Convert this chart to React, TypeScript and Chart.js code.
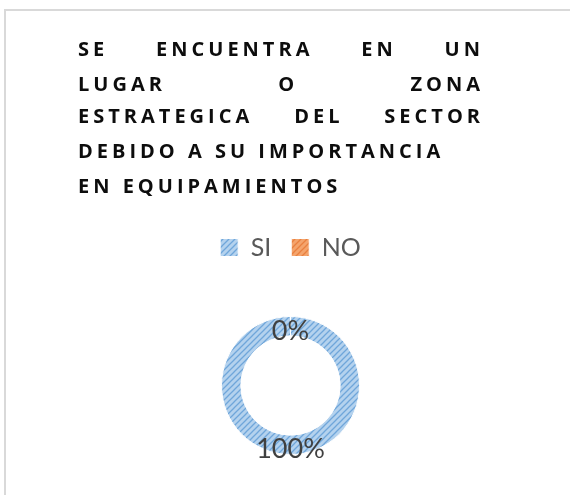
import React, { useEffect, useRef } from "react";
import { Chart, registerables } from "chart.js";

Chart.register(...registerables);

const categories = ["SI", "NO"];
const values = [100, 0];
const valueLabels = ["100%", "0%"];
const titleLines = [
  ["SE", "ENCUENTRA", "EN", "UN"],
  ["LUGAR", "O", "ZONA"],
  ["ESTRATEGICA", "DEL", "SECTOR"],
  ["DEBIDO", "A", "SU", "IMPORTANCIA"],
  ["EN", "EQUIPAMIENTOS"],
];
const justified = [true, true, true, false, false];

function makePattern(bg: string, fg: string): CanvasPattern | string {
  const c = document.createElement("canvas");
  c.width = 6;
  c.height = 6;
  const x = c.getContext("2d");
  if (!x) return bg;
  x.fillStyle = bg;
  x.fillRect(0, 0, 6, 6);
  x.strokeStyle = fg;
  x.lineWidth = 1.3;
  x.beginPath();
  x.moveTo(-1, 7);
  x.lineTo(7, -1);
  x.moveTo(-1, 1);
  x.lineTo(1, -1);
  x.moveTo(5, 7);
  x.lineTo(7, 5);
  x.stroke();
  const p = x.createPattern(c, "repeat");
  return p || bg;
}

export default function App() {
  const ref = useRef<HTMLCanvasElement | null>(null);
  useEffect(() => {
    if (!ref.current) return;
    const blue = makePattern("#b4d2ee", "#6fa6da");
    const orange = makePattern("#f4a46c", "#e9803f");

    const framePlugin = {
      id: "frame",
      beforeDraw(chart: any) {
        const ctx = chart.ctx;
        ctx.save();
        ctx.fillStyle = "#ffffff";
        ctx.fillRect(0, 0, chart.width, chart.height);
        ctx.strokeStyle = "#d9d9d9";
        ctx.lineWidth = 2;
        ctx.beginPath();
        ctx.moveTo(5, chart.height);
        ctx.lineTo(5, 10);
        ctx.lineTo(chart.width, 10);
        ctx.stroke();
        ctx.restore();
      },
    };

    const titlePlugin = {
      id: "justTitle",
      afterDraw(chart: any) {
        const ctx = chart.ctx;
        ctx.save();
        ctx.font = "bold 20px 'Open Sans'";
        (ctx as any).letterSpacing = "4px";
        ctx.fillStyle = "#0d0d0d";
        ctx.textBaseline = "alphabetic";
        ctx.textAlign = "left";
        const left = 78;
        const right = 484;
        const baselines = [56, 91, 123, 158, 193];
        titleLines.forEach((words, i) => {
          const y = baselines[i];
          if (justified[i] && words.length > 1) {
            const widths = words.map((w) => ctx.measureText(w).width);
            const total = widths.reduce((a, b) => a + b, 0);
            const gap = (right - left - total) / (words.length - 1);
            let x = left;
            words.forEach((w, j) => {
              ctx.fillText(w, x, y);
              x += widths[j] + gap;
            });
          } else {
            ctx.fillText(words.join(" "), left, y);
          }
        });
        ctx.restore();
      },
    };

    const labelPlugin = {
      id: "valLabels",
      afterDatasetsDraw(chart: any) {
        const ctx = chart.ctx;
        const meta = chart.getDatasetMeta(0);
        ctx.save();
        ctx.font = "27px Lato";
        ctx.fillStyle = "#404040";
        ctx.textAlign = "center";
        ctx.textBaseline = "middle";
        meta.data.forEach((arc: any, i: number) => {
          const p = arc.tooltipPosition();
          ctx.fillText(valueLabels[i], p.x, p.y + (i === 0 ? 4 : 5));
        });
        ctx.restore();
      },
    };

    const legendGap = {
      id: "legendGap",
      beforeUpdate(chart: any) {
        const lg = chart.legend;
        if (lg && !lg.__patched) {
          const fit = lg.fit;
          lg.fit = function () {
            fit.call(this);
            this.height += 6;
          };
          lg.__patched = true;
        }
      },
    };

    const chart = new Chart(ref.current, {
      type: "doughnut",
      data: {
        labels: categories,
        datasets: [
          {
            data: values,
            backgroundColor: [blue, orange] as any,
            borderColor: "#ffffff",
            borderWidth: 1,
          } as any,
        ],
      },
      options: {
        animation: false,
        responsive: false,
        rotation: 0,
        radius: 69,
        cutout: "72%",
        layout: { padding: { top: 215, left: 11, right: 0, bottom: 0 } },
        plugins: {
          title: { display: false },
          tooltip: { enabled: false },
          legend: {
            position: "top",
            labels: {
              boxWidth: 18,
              boxHeight: 18,
              padding: 20,
              color: "#595959",
              font: { family: "Lato", size: 25 },
            },
          },
        },
      } as any,
      plugins: [framePlugin, titlePlugin, labelPlugin, legendGap],
    });
    return () => chart.destroy();
  }, []);

  return (
    <div style={{ position: "absolute", left: 0, top: 0, width: 570, height: 495 }}>
      <canvas ref={ref} width={570} height={495} style={{ width: 570, height: 495, display: "block" }} />
    </div>
  );
}
